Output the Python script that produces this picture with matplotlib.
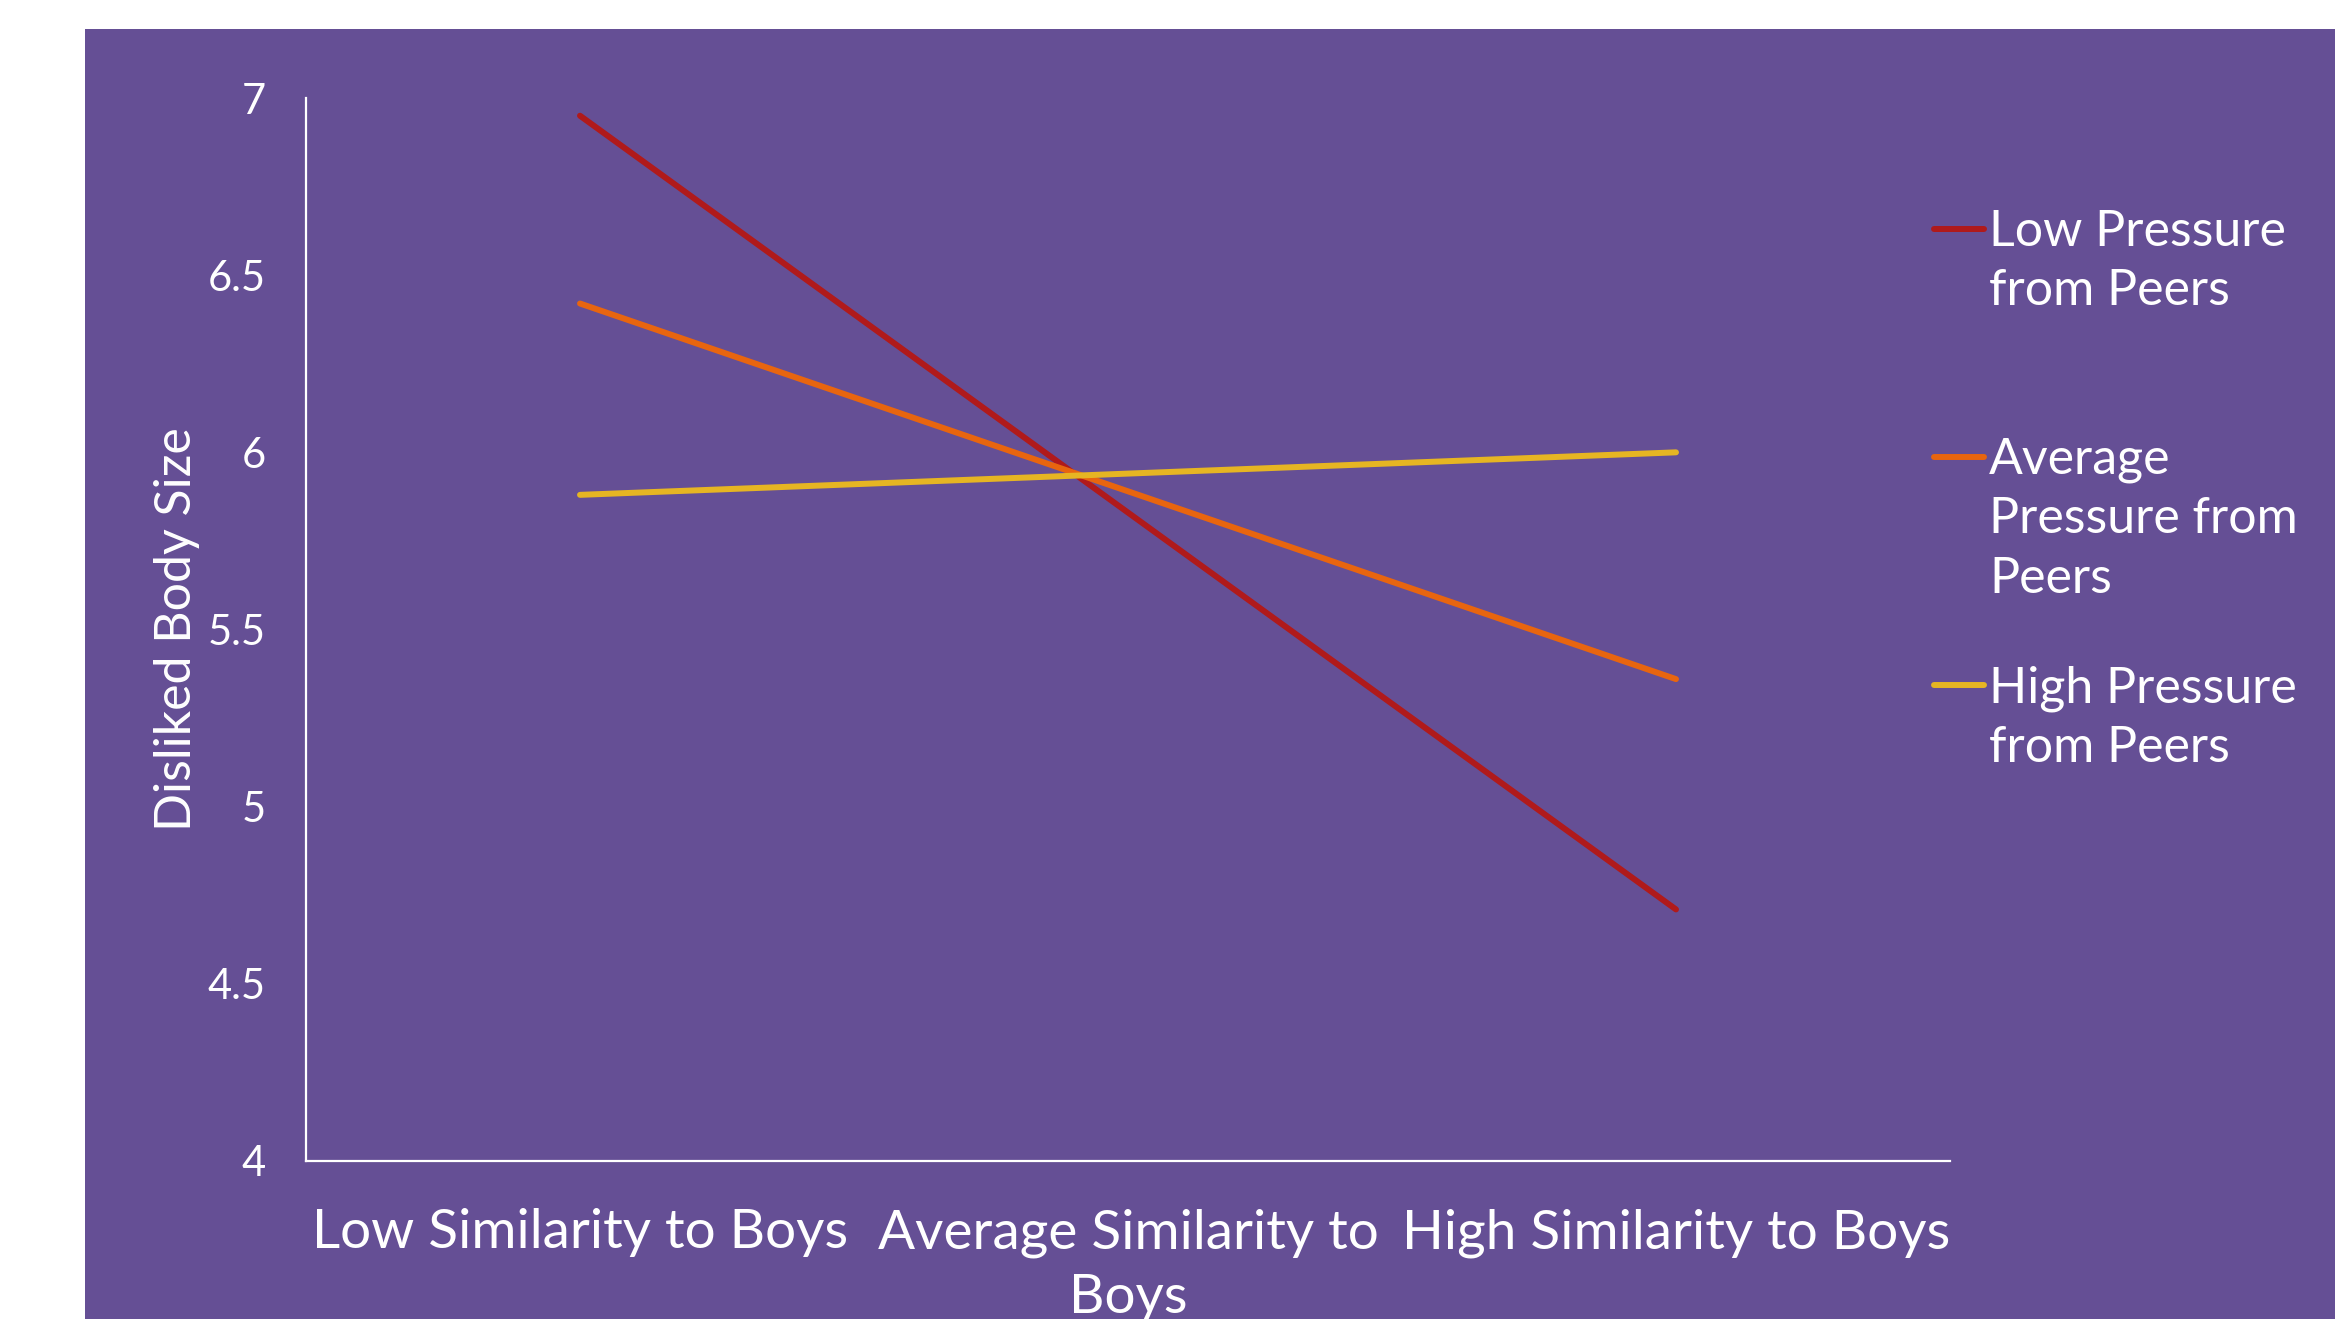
import matplotlib
matplotlib.use("Agg")
import matplotlib.pyplot as plt
from matplotlib.patches import Rectangle

categories = ["Low Similarity to Boys", "Average Similarity to\nBoys", "High Similarity to Boys"]
series_names = ["Low Pressure\nfrom Peers\n", "Average\nPressure from\nPeers", "High Pressure\nfrom Peers"]
low_pressure = [6.95, 5.83, 4.71]
avg_pressure = [6.42, 5.89, 5.36]
high_pressure = [5.88, 5.94, 6.00]
y_ticks = [4, 4.5, 5, 5.5, 6, 6.5, 7]
y_tick_labels = ["4", "4.5", "5", "5.5", "6", "6.5", "7"]
y_label = "Disliked Body Size"

colors = ["#B01A1B", "#E8650F", "#E6B523"]
BG = "#654F95"
FONT = ["Lato", "DejaVu Sans"]
WEIGHT = "normal"

W, H = 2352, 1319
fig = plt.figure(figsize=(W / 100, H / 100), dpi=100, facecolor="white")
fig.patches.append(Rectangle((85 / W, 0), (2335 - 85) / W, 1 - 29 / H,
                             transform=fig.transFigure, facecolor=BG,
                             edgecolor="none", zorder=-10))

ax = fig.add_axes([306 / W, 1 - 1161 / H, (1950 - 306) / W, (1161 - 98) / H])
ax.set_facecolor("none")

x = list(range(len(categories)))
for vals, name, c in zip([low_pressure, avg_pressure, high_pressure], series_names, colors):
    ax.plot(x, vals, color=c, lw=4.3, solid_capstyle="round", label=name)

ax.set_xlim(-0.5, 2.5)
ax.set_ylim(4, 7)
ax.set_yticks(y_ticks)
ax.set_yticklabels(y_tick_labels)
ax.set_xticks(x)
ax.set_xticklabels(categories)

for s in ["top", "right"]:
    ax.spines[s].set_visible(False)
for s in ["left", "bottom"]:
    ax.spines[s].set_color("white")
    ax.spines[s].set_linewidth(1.6)

ax.tick_params(axis="y", length=0, pad=29, colors="white", labelsize=30)
ax.tick_params(axis="x", length=0, pad=34, colors="white", labelsize=39.5)
for lab in ax.get_yticklabels():
    lab.set_family(FONT)
    lab.set_fontweight(WEIGHT)
for lab in ax.get_xticklabels():
    lab.set_family(FONT)
    lab.set_fontweight(WEIGHT)
    lab.set_linespacing(1.37)

ax.set_ylabel(y_label, color="white", fontsize=36, family=FONT, fontweight=WEIGHT)
ax.yaxis.set_label_coords(-0.0645, 0.5)

leg = ax.legend(loc="upper left", bbox_to_anchor=(1934 / W, 1 - 209 / H),
                bbox_transform=fig.transFigure, frameon=False,
                prop={"family": FONT, "size": 36, "weight": WEIGHT},
                labelcolor="white", handlelength=1.0, handletextpad=0.1,
                labelspacing=1.27, borderpad=0, borderaxespad=0,
                handleheight=1.0)
for line in leg.get_lines():
    line.set_linewidth(4.3)
    line.set_solid_capstyle("round")
for t in leg.get_texts():
    t.set_linespacing(1.36)
try:
    for col in leg._legend_handle_box.get_children():
        for item in col.get_children():
            item.align = "top"
except Exception:
    pass

fig.savefig("out.png", dpi=100, facecolor="white")
